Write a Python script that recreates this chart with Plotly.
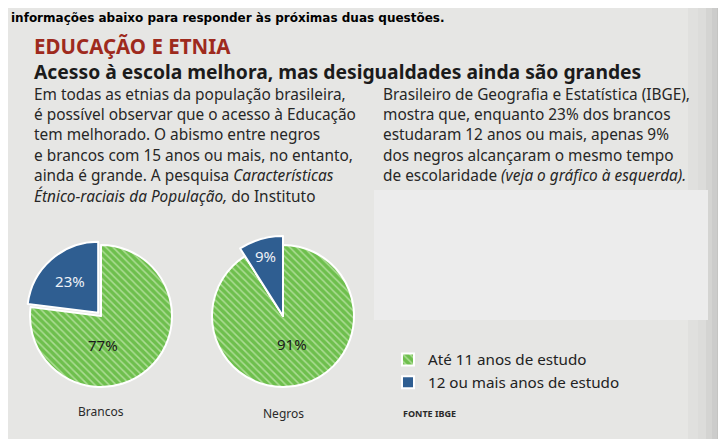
import plotly.graph_objects as go

# The page body keeps an 8 px margin, so the figure starts at page (8, 8);
# the figure is made as large as the window so it always reaches the right/bottom edges.
OFF = 8
W, H = 726, 439

# ---- data ----
groups = ["Brancos", "Negros"]
categories = ["Até 11 anos de estudo", "12 ou mais anos de estudo"]
brancos = [77, 23]
negros = [91, 9]

# ---- texts ----
header_cut = "informações abaixo para responder às próximas duas questões."
kicker = "EDUCAÇÃO E ETNIA"
headline = "Acesso à escola melhora, mas desigualdades ainda são grandes"
left_lines = [
    "Em todas as etnias da população brasileira,",
    "é possível observar que o acesso à Educação",
    "tem melhorado. O abismo entre negros",
    "e brancos com 15 anos ou mais, no entanto,",
    "ainda é grande. A pesquisa <i>Características</i>",
    "<i>Étnico-raciais da População,</i> do Instituto",
]
right_lines = [
    "Brasileiro de Geografia e Estatística (IBGE),",
    "mostra que, enquanto 23% dos brancos",
    "estudaram 12 anos ou mais, apenas 9%",
    "dos negros alcançaram o mesmo tempo",
    "de escolaridade <i>(veja o gráfico à esquerda).</i>",
]
source = "FONTE IBGE"

GREEN = "#6ebf4d"
GREEN_STREAK = "#bce4a6"
BLUE = "#2f5e91"
BG = "#e6e6e4"
BOX = "#ececec"
FONT = "Noto Sans"


def px(x):  # page pixel -> paper fraction
    return (x - OFF) / W


def py(y):
    return 1 - (y - OFF) / H


def dom(cx, cy, half):
    return dict(x=[px(cx - half), px(cx + half)], y=[py(cy + half), py(cy - half)])


fig = go.Figure()

pattern = dict(shape=["\\", ""], fillmode="overlay", fgcolor=GREEN_STREAK,
               fgopacity=0.8, size=5, solidity=0.3)

# Brancos pie
pull_b = 0.06
fig.add_trace(go.Pie(
    labels=categories, values=brancos, sort=False, direction="clockwise", rotation=0,
    pull=[0, pull_b],
    marker=dict(colors=[GREEN, BLUE], line=dict(color="white", width=2), pattern=pattern),
    text=["", f"{brancos[1]}%"], textinfo="text", textposition="inside",
    insidetextorientation="horizontal",
    textfont=dict(family=FONT, size=15, color="#eef2f7"),
    hoverinfo="skip", domain=dom(101, 316, 71 * (1 + pull_b)), showlegend=True,
))

# Negros pie (base)
fig.add_trace(go.Pie(
    labels=categories, values=negros, sort=False, direction="clockwise", rotation=0,
    marker=dict(colors=[GREEN, BLUE], line=dict(color="white", width=2), pattern=pattern),
    textinfo="none", hoverinfo="skip", domain=dom(283, 316, 71), showlegend=False,
))
# Negros pie (enlarged minority slice)
fig.add_trace(go.Pie(
    labels=categories, values=negros, sort=False, direction="clockwise", rotation=0,
    marker=dict(colors=["rgba(0,0,0,0)", BLUE],
                line=dict(color=["rgba(0,0,0,0)", "white"], width=2)),
    text=["", f"{negros[1]}%"], textinfo="text", textposition="inside",
    insidetextorientation="horizontal",
    textfont=dict(family=FONT, size=15, color="#eef2f7"),
    hoverinfo="skip", domain=dom(283, 316, 80), showlegend=False,
))

shapes = []
# right-edge page shadow
for x0, x1, a in [(688, 698, 0.03), (698, 706, 0.06), (706, 712, 0.10),
                  (712, 717, 0.15), (717, 721, 0.20), (721, 740, 0.26)]:
    shapes.append(dict(type="rect", xref="paper", yref="paper", x0=px(x0), x1=px(x1),
                       y0=0, y1=1, fillcolor=f"rgba(60,60,60,{a})",
                       line_width=0, layer="below"))
shapes.append(dict(type="rect", xref="paper", yref="paper", x0=px(374), x1=px(708),
                   y0=py(320), y1=py(190), fillcolor=BOX, line_width=0, layer="below"))

ann = []


def text(x, y, s, size, color="#262626", bold=False, family=FONT, xanchor="left",
         yanchor="middle"):
    if bold:
        s = f"<b>{s}</b>"
    ann.append(dict(x=px(x), y=py(y), xref="paper", yref="paper", text=s, showarrow=False,
                    xanchor=xanchor, yanchor=yanchor, align="left",
                    font=dict(family=family, size=size, color=color)))


text(9, 9, header_cut, 12, color="#000000", bold=True, family="DejaVu Sans",
     yanchor="top")
# kicker + headline in one block
heading = (f'<span style="font-size:20.5px;color:#9e2a1d"><b>{kicker}</b></span><br>'
           f'<b>{headline}</b>')
text(32, 58, heading, 19.3, color="#1b1b1b")
for i, s in enumerate(left_lines):
    text(32, 94 + 20.4 * i, s, 15.4)
for i, s in enumerate(right_lines):
    text(381, 94 + 20.4 * i, s, 15.4)

# majority-slice labels
text(103, 345, f"{brancos[0]}%", 15, color="#1a1a1a", xanchor="center")
text(292, 344, f"{negros[0]}%", 15, color="#1a1a1a", xanchor="center")
# group labels
text(101, 411, groups[0], 12, color="#2a2a2a", xanchor="center")
text(283, 413, groups[1], 12, color="#2a2a2a", xanchor="center")
text(401, 413, source, 9, color="#2a2a2a", bold=True)

fig.update_layout(
    width=W, height=H, margin=dict(l=0, r=0, t=0, b=0),
    paper_bgcolor=BG, plot_bgcolor=BG,
    shapes=shapes, annotations=ann,
    legend=dict(x=px(388), y=py(343), xanchor="left", yanchor="top",
                font=dict(family=FONT, size=15.2, color="#222222"),
                bgcolor="rgba(0,0,0,0)", tracegroupgap=0),
)

fig.write_html("out.html")
